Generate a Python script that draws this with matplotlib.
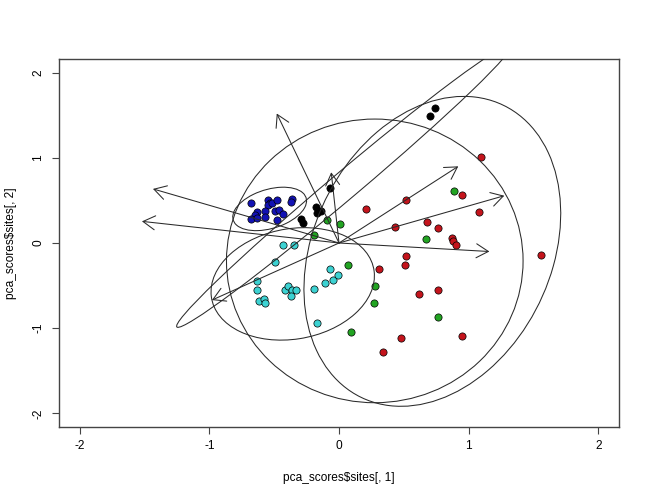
import matplotlib
matplotlib.use("Agg")
import matplotlib.pyplot as plt
from matplotlib.patches import Ellipse

plt.rcParams['font.family'] = ['Liberation Sans', 'DejaVu Sans']

# ---- site scores (PC1, PC2) by group ----
blue_x = [-0.68, -0.55, -0.53, -0.55, -0.52, -0.48, -0.36, -0.37, -0.63, -0.65,
          -0.57, -0.57, -0.49, -0.46, -0.43, -0.48, -0.68, -0.63]
blue_y = [0.47, 0.50, 0.47, 0.45, 0.47, 0.50, 0.52, 0.48, 0.36, 0.33,
          0.37, 0.30, 0.38, 0.39, 0.34, 0.27, 0.28, 0.29]

black_x = [-0.07, -0.18, -0.17, -0.14, -0.29, -0.28, 0.74, 0.70]
black_y = [0.65, 0.42, 0.35, 0.37, 0.28, 0.23, 1.59, 1.49]

cyan_x = [-0.43, -0.35, -0.49, -0.635, -0.63, -0.62, -0.58, -0.57, -0.42, -0.39,
          -0.36, -0.33, -0.37, -0.19, -0.11, -0.05, -0.07, -0.01, -0.17]
cyan_y = [-0.02, -0.02, -0.22, -0.45, -0.55, -0.68, -0.655, -0.71, -0.55, -0.50,
          -0.55, -0.55, -0.62, -0.54, -0.475, -0.44, -0.31, -0.37, -0.94]

green_x = [-0.09, 0.01, -0.19, 0.07, 0.28, 0.27, 0.09, 0.89, 0.67, 0.76]
green_y = [0.27, 0.22, 0.09, -0.255, -0.50, -0.71, -1.05, 0.61, 0.05, -0.87]

red_x = [0.21, 0.43, 1.095, 0.52, 0.95, 1.08, 0.68, 0.76, 0.87, 0.88,
         0.90, 0.52, 0.51, 1.56, 0.76, 0.62, 0.95, 0.48, 0.31, 0.34]
red_y = [0.40, 0.19, 1.015, 0.51, 0.565, 0.365, 0.25, 0.18, 0.06, 0.02,
         -0.02, -0.15, -0.26, -0.14, -0.55, -0.60, -1.09, -1.12, -0.30, -1.28]

# ---- species loadings (arrows from origin) ----
arrow_x = [-0.48, -1.435, -1.52, -0.98, -0.06, 0.92, 1.275, 1.16]
arrow_y = [1.52, 0.635, 0.254, -0.67, 0.83, 0.90, 0.555, -0.10]

# ---- group ellipses: centre, semi-axes, angle (data space) ----
ell_cx = [-0.535, -0.357, 0.276, 0.72, 0.04]
ell_cy = [0.40, -0.48, -0.21, -0.098, 0.67]
ell_a = [0.318, 0.692, 1.665, 1.841, 2.10]
ell_b = [0.212, 0.595, 1.144, 0.949, 0.13]
ell_angle = [36.7, 54.0, 90.0, 79.65, 52.15]

ticks = [-2, -1, 0, 1, 2]

fig = plt.figure(figsize=(6.5, 5), dpi=100)
ax = fig.add_axes([59/650, 1 - 427/500, 560/650, 368/500])
ax.set_xlim(-2.16, 2.16)
ax.set_ylim(-2.16, 2.16)

groups = [
    (red_x, red_y, '#c4141c'),
    (green_x, green_y, '#22a422'),
    (cyan_x, cyan_y, '#3cd2d2'),
    (blue_x, blue_y, '#1212b4'),
    (black_x, black_y, '#000000'),
]
for gx, gy, col in groups:
    ax.scatter(gx, gy, s=27, c=col, edgecolors='black', linewidths=0.5, zorder=3)

for cx, cy, a, b, ang in zip(ell_cx, ell_cy, ell_a, ell_b, ell_angle):
    ax.add_patch(Ellipse((cx, cy), 2 * a, 2 * b, angle=ang, fill=False,
                         edgecolor='#2a2a2a', linewidth=0.75, zorder=4))

for x, y in zip(arrow_x, arrow_y):
    ax.annotate('', xy=(x, y), xytext=(0, 0),
                arrowprops=dict(arrowstyle='->,head_length=0.864,head_width=0.504',
                                mutation_scale=10, color='#2a2a2a', lw=0.75,
                                shrinkA=0, shrinkB=0), zorder=5)

ax.set_xticks(ticks)
ax.set_yticks(ticks)
ax.set_xticklabels([str(t) for t in ticks])
ax.set_yticklabels([str(t) for t in ticks], rotation=90, va='center')
ax.tick_params(axis='both', direction='out', length=5, width=0.8, color='#444444',
               labelsize=8.6)
ax.tick_params(axis='x', pad=4.5)
ax.tick_params(axis='y', pad=5.5)
for sp in ax.spines.values():
    sp.set_color('#444444')
    sp.set_linewidth(1.0)

ax.set_xlabel('pca_scores$sites[, 1]', fontsize=8.6, labelpad=14)
ax.set_ylabel('pca_scores$sites[, 2]', fontsize=8.6, labelpad=11)

fig.savefig('out.png', dpi=100)
